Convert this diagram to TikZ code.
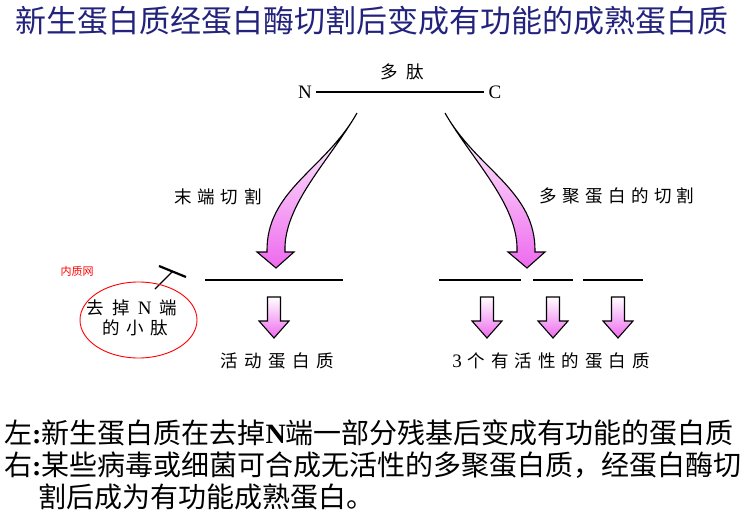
\documentclass[tikz,border=0pt]{standalone}
\usepackage{fontspec}
\usetikzlibrary{calc}
\setmainfont{Liberation Serif}
\newfontfamily\cjk{Noto Sans CJK SC}
\definecolor{titlenavy}{RGB}{35,35,125}
\definecolor{arrmag}{RGB}{238,105,238}
\newcommand\gp[1][6pt]{\hspace{#1}}
\newcommand\lat[1]{{\normalfont\fontsize{19}{21}\selectfont #1}}
\tikzset{
  lbl/.style={inner sep=0pt, font=\fontsize{17.5}{20}\selectfont\cjk},
  bigtext/.style={inner sep=0pt, anchor=west, font=\fontsize{28}{32}\selectfont\cjk},
  arrowfill/.style={draw=black, line width=1.1pt, line join=miter, top color=white, bottom color=arrmag},
  strand/.style={line width=2.4pt},
  downarr/.pic={\shadedraw[arrowfill] (-6.5,0) -- (6.5,0) -- (6.5,-24) -- (15,-24) -- (0,-41) -- (-15,-24) -- (-6.5,-24) -- cycle;}
}
\begin{document}
\begin{tikzpicture}[x=1pt,y=1pt]
\useasboundingbox (0,0) rectangle (745,-514);
% title
\node[inner sep=0pt, text=titlenavy, font=\fontsize{31}{34}\selectfont\cjk] (title) at (372,-21) {新生蛋白质经蛋白酶切割后变成有功能的成熟蛋白质};
% polypeptide
\node[lbl] (pep) at (402,-72) {多\gp[8pt]肽};
\node[inner sep=0pt, font=\fontsize{19}{21}\selectfont] (nend) at (305,-92) {N};
\node[inner sep=0pt, font=\fontsize{19}{21}\selectfont] (cend) at (495,-92) {C};
\draw[line width=1.5pt] ($(nend.east)+(4,0)$) -- ($(cend.west)+(-4,0)$);
% curved arrows
\shadedraw[arrowfill] (357,-113) .. controls (325,-170) and (266,-190) .. (267,-252) -- (257,-252) -- (276,-268) -- (294,-252) -- (285,-252) .. controls (283,-205) and (330,-160) .. (357,-113) -- cycle;
\shadedraw[arrowfill] (445,-113) .. controls (477,-170) and (536,-190) .. (535,-252) -- (545,-252) -- (527,-268) -- (508,-252) -- (517,-252) .. controls (519,-205) and (472,-160) .. (445,-113) -- cycle;
\node[lbl] (lcut) at (218,-197) {末\gp 端\gp 切\gp 割};
\node[lbl] (rcut) at (617,-196) {多\gp[5.4pt]聚\gp[5.4pt]蛋\gp[5.4pt]白\gp[5.4pt]的\gp[5.4pt]切\gp[5.4pt]割};
% strands
\draw[strand] (205,-280) coordinate (s1a) -- (343,-280) coordinate (s1b);
\draw[strand] (439,-280) coordinate (s2a) -- (521,-280) coordinate (s2b);
\draw[strand] (533,-280) coordinate (s3a) -- (573,-280) coordinate (s3b);
\draw[strand] (583,-280) coordinate (s4a) -- (643,-280) coordinate (s4b);
% small arrows
\pic at (274,-297) {downarr};
\pic at (487,-297) {downarr};
\pic at (553,-297) {downarr};
\pic at (618,-297) {downarr};
\node[lbl] (act) at (277,-361) {活\gp[6.4pt]动\gp[6.4pt]蛋\gp[6.4pt]白\gp[6.4pt]质};
\node[lbl] (three) at (551,-361) {\lat{3}\gp 个\gp 有\gp 活\gp 性\gp 的\gp 蛋\gp 白\gp 质};
% removed N-terminal peptide
\draw[line width=2.2pt] (159,-266) coordinate (ta) -- (186,-277) coordinate (tb);
\draw[line width=1.1pt] ($(ta)!0.5!(tb)$) -- (155,-289) coordinate (tc);
\draw[red, line width=0.9pt] (138.5,-320) ellipse [x radius=58.5, y radius=38];
\node[lbl] (rm1) at (132,-308) {去\gp[8pt]掉\gp[8pt]\lat{N}\gp[8pt]端};
\node[lbl] (rm2) at (135,-328) {的\gp[6.75pt]小\gp[6.75pt]肽};
\node[inner sep=0pt, text=red, font=\fontsize{11}{12}\selectfont\cjk] (er) at (77,-271) {内质网};
% bottom text
\node[bigtext] (l1) at (4,-433) {左{\normalfont\bfseries :}新生蛋白质在去掉{\normalfont\bfseries N}端一部分残基后变成有功能的蛋白质};
\node[bigtext] (l2) at (4,-465) {右{\normalfont\bfseries :}某些病毒或细菌可合成无活性的多聚蛋白质，经蛋白酶切};
\node[bigtext] (l3) at (38,-497) {割后成为有功能成熟蛋白。};
\end{tikzpicture}
\end{document}
